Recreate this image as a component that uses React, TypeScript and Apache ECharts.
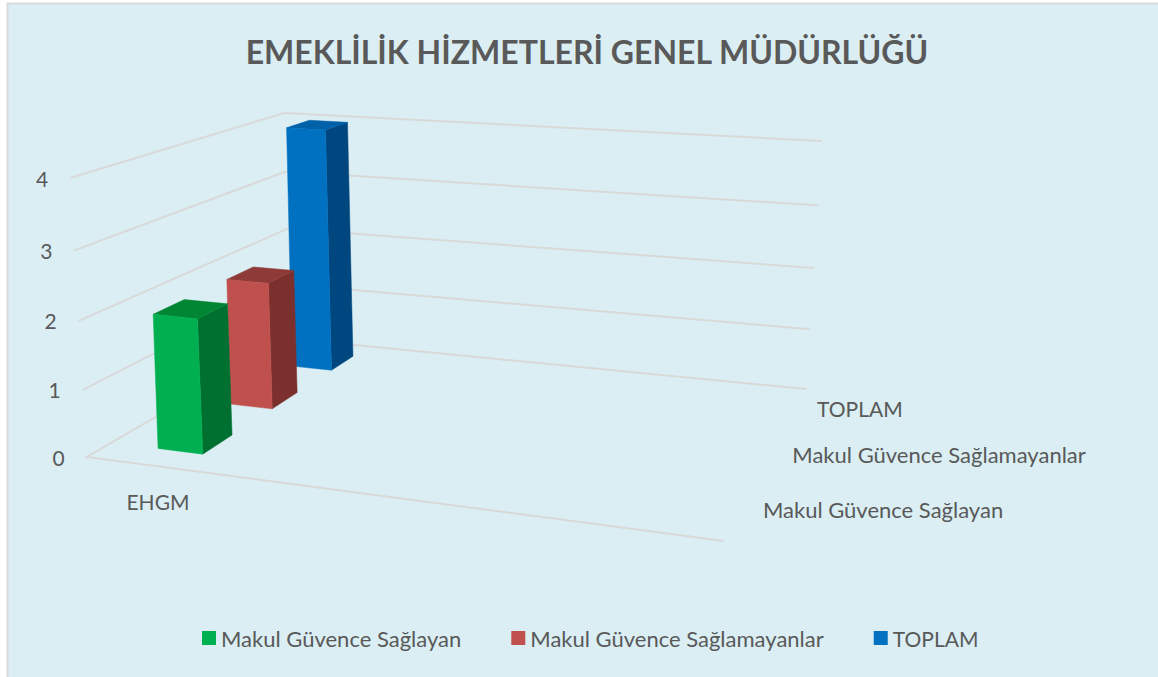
import React, { useEffect, useRef } from "react";
import * as echarts from "echarts";

const titleText = "EMEKLİLİK HİZMETLERİ GENEL MÜDÜRLÜĞÜ";
const categories = ["EHGM", "", "", ""];
const seriesNames = ["Makul Güvence Sağlayan", "Makul Güvence Sağlamayanlar", "TOPLAM"];
const sagLayan = [2];
const sagLamayan = [2];
const toplam = [4];
const gridLevels = [0, 1, 2, 3, 4];

const FONT = "Lato, sans-serif";
const TEXT = "#595959";
const PANEL = "#DAEEF3";
const GRID_LINE = "#D9D9D9";
const FACE = [
  { front: "#00B050", side: "#007030", top: "#008533" },
  { front: "#C0504D", side: "#7C302E", top: "#8E3A38" },
  { front: "#0070C0", side: "#00467F", top: "#0060A8" },
];
const nameSizes = [22, 22, 21];

const GRID = { left: 86.7, right: 1158 - 657, top: 178, bottom: 677 - 457 };

type P = [number, number];
function quadMap(p00: P, p10: P, p11: P, p01: P) {
  const sx = p00[0] - p10[0] + p11[0] - p01[0];
  const sy = p00[1] - p10[1] + p11[1] - p01[1];
  const dx1 = p10[0] - p11[0];
  const dx2 = p01[0] - p11[0];
  const dy1 = p10[1] - p11[1];
  const dy2 = p01[1] - p11[1];
  const den = dx1 * dy2 - dx2 * dy1;
  const g = (sx * dy2 - dx2 * sy) / den;
  const h = (dx1 * sy - sx * dy1) / den;
  const a = p10[0] - p00[0] + g * p10[0];
  const b = p01[0] - p00[0] + h * p01[0];
  const d = p10[1] - p00[1] + g * p10[1];
  const e = p01[1] - p00[1] + h * p01[1];
  return (u: number, v: number): P => {
    const w = g * u + h * v + 1;
    return [(a * u + b * v + p00[0]) / w, (d * u + e * v + p00[1]) / w];
  };
}
const floorMap = quadMap([86.7, 457], [724, 541], [806, 389], [291, 338.8]);
const ceilMap = quadMap([70, 178], [745, 235], [822, 141], [284, 113]);

function project(u: number, d: number, t: number, lean = 1): P {
  const k = t / (t + 1.05 * (1 - t));
  const a = floorMap(u, d);
  const b = ceilMap(u, d);
  return [a[0] + (b[0] - a[0]) * k * lean, a[1] + (b[1] - a[1]) * k];
}

function fromAxis(params: any, api: any, x: number, v: number) {
  const c = api.coord([x, v]);
  const cs = params.coordSys;
  return { u: (c[0] - cs.x) / cs.width, t: (cs.y + cs.height - c[1]) / cs.height };
}

const barHalfU = 0.04;
const barHalfD = 0.067;
const barLean = 0.6;

function barRenderer(slot: number) {
  return (params: any, api: any) => {
    const { u, t } = fromAxis(params, api, api.value(0), api.value(1));
    const u0 = u - barHalfU;
    const u1 = u + barHalfU;
    const dc = (slot + 0.5) / seriesNames.length;
    const d0 = dc - barHalfD;
    const d1 = dc + barHalfD;
    const c = FACE[slot];
    const pr = (a: number, b: number, h: number) => project(a, b, h, barLean);
    const poly = (points: P[], fill: string) => ({
      type: "polygon",
      shape: { points },
      style: { fill, stroke: fill, lineWidth: 0.5 },
    });
    return {
      type: "group",
      children: [
        poly([pr(u1, d0, 0), pr(u1, d1, 0), pr(u1, d1, t), pr(u1, d0, t)], c.side),
        poly([pr(u0, d0, t), pr(u1, d0, t), pr(u1, d1, t), pr(u0, d1, t)], c.top),
        poly([pr(u0, d0, 0), pr(u1, d0, 0), pr(u1, d0, t), pr(u0, d0, t)], c.front),
      ],
    };
  };
}

function wallRenderer(params: any, api: any) {
  const { t } = fromAxis(params, api, 0, api.value(0));
  const points: P[] = [];
  if (api.value(0) === 0) points.push(project(1, 0, t));
  points.push(project(0, 0, t), project(0, 1, t), project(1, 1, t));
  return {
    type: "polyline",
    shape: { points },
    style: { fill: "none", stroke: GRID_LINE, lineWidth: 2 },
  };
}

function tickLabelRenderer(params: any, api: any) {
  const v = api.value(0);
  const { t } = fromAxis(params, api, 0, v);
  const [x, y] = project(0, 0, t);
  return {
    type: "text",
    style: {
      x: x - 28,
      y,
      text: String(v),
      fill: TEXT,
      fontSize: 21,
      fontFamily: FONT,
      align: "center",
      verticalAlign: "middle",
    },
  };
}

function depthLabelRenderer(params: any, api: any) {
  const i = api.value(0);
  const [x, y] = project(1, (i + 0.5) / seriesNames.length, 0);
  return {
    type: "text",
    style: {
      x: x + 22,
      y: y - 0.5,
      text: seriesNames[i],
      fill: TEXT,
      fontSize: nameSizes[i],
      fontFamily: FONT,
      align: "left",
      verticalAlign: "middle",
    },
  };
}

const barSeries = (name: string, values: number[], slot: number, z: number) => ({
  type: "custom",
  name,
  coordinateSystem: "cartesian2d",
  renderItem: barRenderer(slot),
  encode: { x: 0, y: 1 },
  data: values.map((v, i) => [i, v]),
  itemStyle: { color: FACE[slot].front },
  silent: true,
  z,
});

export default function App() {
  const ref = useRef<HTMLDivElement>(null);
  useEffect(() => {
    const chart = echarts.init(ref.current!, undefined, { renderer: "svg" });
    chart.setOption({
      animation: false,
      backgroundColor: "#FFFFFF",
      textStyle: { fontFamily: FONT, color: TEXT },
      title: {
        text: titleText,
        left: 582,
        top: 30,
        textAlign: "center",
        textStyle: { fontFamily: FONT, fontWeight: "bold", fontSize: 32, color: TEXT },
      },
      legend: {
        left: 202,
        top: 627,
        padding: 0,
        itemWidth: 14,
        itemHeight: 14,
        itemGap: 50,
        icon: "rect",
        selectedMode: false,
        data: seriesNames.map((name, i) => ({
          name,
          textStyle: { fontFamily: FONT, fontSize: nameSizes[i], color: TEXT },
        })),
        textStyle: { fontFamily: FONT, fontSize: 22, color: TEXT },
      },
      grid: GRID,
      xAxis: {
        type: "category",
        data: categories,
        axisLine: { show: false },
        axisTick: { show: false },
        splitLine: { show: false },
        axisLabel: { interval: 0, margin: 34, fontFamily: FONT, fontSize: 21, color: TEXT },
      },
      yAxis: {
        type: "value",
        min: 0,
        max: 4,
        interval: 1,
        axisLine: { show: false },
        axisTick: { show: false },
        splitLine: { show: false },
        axisLabel: { show: false },
      },
      graphic: [
        {
          type: "rect",
          z: -10,
          silent: true,
          shape: { x: 7.5, y: 3.5, width: 1160, height: 680 },
          style: { fill: PANEL, stroke: GRID_LINE, lineWidth: 2 },
        },
      ],
      series: [
        {
          type: "custom",
          coordinateSystem: "cartesian2d",
          renderItem: wallRenderer,
          encode: { y: 0 },
          data: gridLevels.map((v) => [v]),
          silent: true,
          z: 1,
        },
        {
          type: "custom",
          coordinateSystem: "cartesian2d",
          renderItem: tickLabelRenderer,
          encode: { y: 0 },
          data: gridLevels.map((v) => [v]),
          silent: true,
          z: 1,
        },
        {
          type: "custom",
          coordinateSystem: "cartesian2d",
          renderItem: depthLabelRenderer,
          data: seriesNames.map((_, i) => [i]),
          silent: true,
          z: 1,
        },
        barSeries(seriesNames[2], toplam, 2, 2),
        barSeries(seriesNames[1], sagLamayan, 1, 3),
        barSeries(seriesNames[0], sagLayan, 0, 4),
      ],
    });
    return () => chart.dispose();
  }, []);
  return <div ref={ref} style={{ position: "fixed", left: 0, top: 0, width: 1158, height: 677 }} />;
}
